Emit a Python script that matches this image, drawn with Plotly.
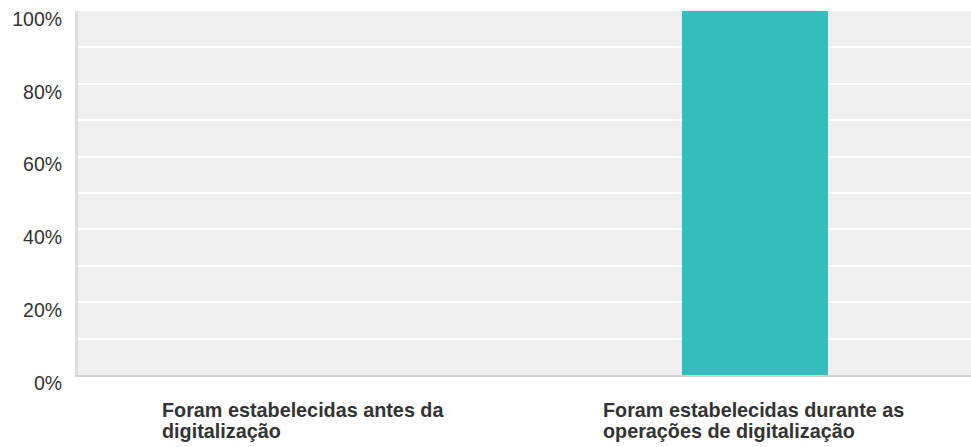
import plotly.graph_objects as go

categories = ["Foram estabelecidas antes da digitalização",
              "Foram estabelecidas durante as operações de digitalização"]
label_lines = [["Foram estabelecidas antes da", "digitalização"],
               ["Foram estabelecidas durante as", "operações de digitalização"]]
values = [0, 100]
tick_vals = [0, 20, 40, 60, 80, 100]
tick_text = ["0%", "20%", "40%", "60%", "80%", "100%"]

FONT = "Liberation Sans, Arial, Helvetica, sans-serif"
# half-width of each (left-aligned) label block, used to left-align its lines
block_half = [143.5, 153.5]

fig = go.Figure()
fig.add_trace(go.Bar(
    x=categories, y=values, width=0.3235,
    marker=dict(color="#33bdbf", line=dict(width=0)),
    hoverinfo="skip",
))

for cat, lines, half in zip(categories, label_lines, block_half):
    for i, line in enumerate(lines):
        fig.add_annotation(
            x=cat, xref="x", y=0, yref="y", yanchor="middle", xanchor="left",
            xshift=-half, yshift=-34.5 - 21.5 * i, showarrow=False,
            text=line,
            font=dict(family=FONT, size=19.8, color="#333333", weight="bold"),
        )

fig.update_layout(
    width=971, height=447,
    margin=dict(l=78, r=0, t=11, b=72, autoexpand=False),
    paper_bgcolor="white", plot_bgcolor="#efefef",
    showlegend=False, bargap=0,
    font=dict(family=FONT, color="#333333"),
    xaxis=dict(
        type="category", range=[-0.5, 1.4786], automargin=False,
        showticklabels=False, showgrid=False, zeroline=False,
        showline=True, linecolor="#d2d2d2", linewidth=2, ticks="",
    ),
    yaxis=dict(
        range=[0, 100], tickvals=tick_vals, ticktext=tick_text, automargin=False,
        tickfont=dict(family=FONT, size=19.5, color="#333333"),
        showgrid=True, gridcolor="white", gridwidth=2,
        minor=dict(dtick=10, showgrid=True, gridcolor="white", gridwidth=2),
        zeroline=False, showline=True, linecolor="#dddddd", linewidth=3,
        ticks="", ticklabelshift=8, ticklabelstandoff=9,
    ),
)

fig.write_html(
    "out.html",
    config={"displayModeBar": False},
    post_script="document.body.style.margin='0';document.body.style.overflow='hidden';",
)
